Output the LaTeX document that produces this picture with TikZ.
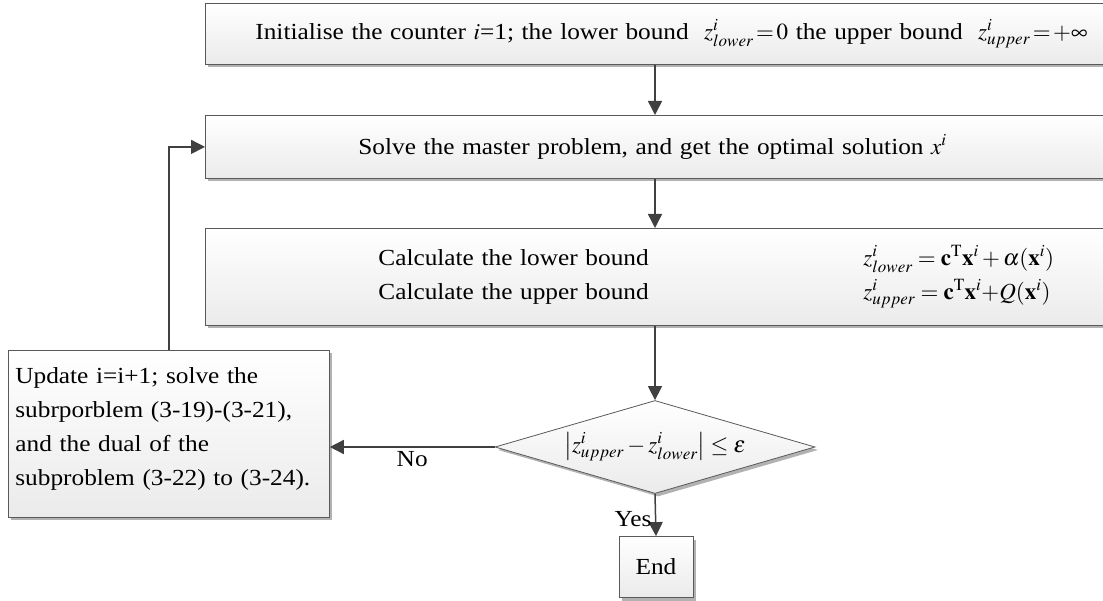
\documentclass[tikz,border=0pt]{standalone}
\usepackage{mathptmx}
\usepackage{fontspec}
\setmainfont{Liberation Serif}[FakeStretch=1.1]
\usetikzlibrary{positioning,shapes.geometric,shadows,arrows.meta}

\tikzset{
  flowbox/.style={draw=black!65, line width=0.8pt, top color=white, bottom color=black!8,
    drop shadow={shadow xshift=3pt, shadow yshift=-3pt, fill=black!60, opacity=0.5}, inner sep=0pt},
  widebox/.style={flowbox, anchor=north west, minimum width=944pt, text width=944pt, align=left},
  decision/.style={flowbox, diamond, aspect=3.44, minimum width=320pt, minimum height=93pt},
  flowarrow/.style={draw=black!75, line width=1.5pt, -{Triangle[length=14pt,width=14pt]}},
}

\begin{document}
\begin{tikzpicture}[x=1pt, y=-1pt, every node/.style={font=\fontsize{23}{34}\selectfont}]
    \useasboundingbox (0,0) rectangle (1103,601);

    % boxes
    \node[widebox, minimum height=61pt] (init) at (205,3)
        {\hspace*{50pt}Initialise the counter $i$=1; the lower bound\ \ $z^{i}_{lower}\,{=}\,0$ the upper bound\ \ $z^{i}_{upper}\,{=}\,{+}\infty$};
    \node[widebox, minimum height=63pt] (master) at (205,115)
        {\hspace*{153pt}Solve the master problem, and get the optimal solution $x^{i}$};
    \node[widebox, minimum height=97pt] (bounds) at (205,228)
        {\hspace*{173pt}\makebox[485pt][l]{Calculate the lower bound}$z^{i}_{lower}=\mathbf{c}^{\mathrm{T}}\mathbf{x}^{i}+\alpha(\mathbf{x}^{i})$\\
         \hspace*{173pt}\makebox[485pt][l]{Calculate the upper bound}$z^{i}_{upper}=\mathbf{c}^{\mathrm{T}}\mathbf{x}^{i}{+}Q(\mathbf{x}^{i})$};
    \node[decision] (check) at (655,447) {$\left|z^{i}_{upper}-z^{i}_{lower}\right|\le\varepsilon$};
    \node[flowbox, anchor=north west, minimum width=321pt, minimum height=167pt, text width=307pt, align=left] (update) at (8,350)
        {Update i=i+1; solve the\\ subrporblem (3-19)-(3-21),\\ and the dual of the\\ subproblem (3-22) to (3-24).\\[-20pt]\mbox{}};
    \node[flowbox, minimum width=74pt, minimum height=61pt] (stop) at (656,567) {End};

    % connectors
    \draw[flowarrow] (init.south -| check.north) -- (master.north -| check.north);
    \draw[flowarrow] (master.south -| check.north) -- (bounds.north -| check.north);
    \draw[flowarrow] (bounds.south -| check.north) -- (check.north);
    \draw[flowarrow] (check.west) -- node[below] {No} (check.west -| update.east);
    \draw[flowarrow] (check.south) -- node[left, pos=0.6] {Yes} (stop.north);
    \draw[flowarrow] (update.north) |- (master.west);
\end{tikzpicture}
\end{document}
